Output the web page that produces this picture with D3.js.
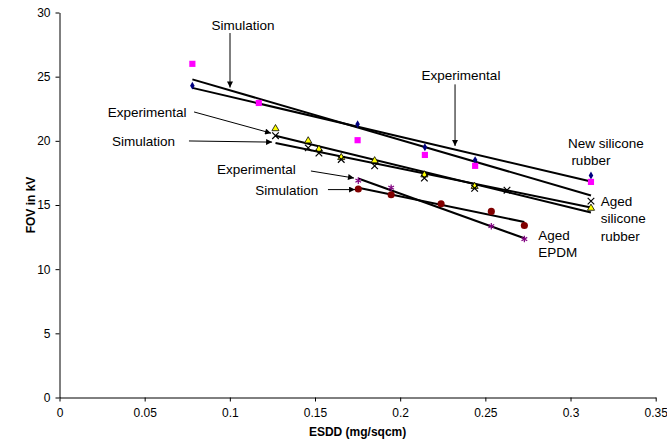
<!DOCTYPE html>
<html>
<head>
<meta charset="utf-8">
<script src="https://cdn.jsdelivr.net/npm/d3@7"></script>
<style>
  body { margin: 0; background: #fff; }
  svg { display: block; font-family: "Liberation Sans", Arial, sans-serif; }
</style>
</head>
<body>
<div id="chart"></div>
<script>
// Axis ticks
var xTicks = [0, 0.05, 0.1, 0.15, 0.2, 0.25, 0.3, 0.35];
var yTicks = [0, 5, 10, 15, 20, 25, 30];

// New silicone rubber
var newExpX = [0.078, 0.175, 0.2145, 0.244, 0.312];
var newExpY = [24.3, 21.3, 19.5, 18.5, 17.3];
var newSimX = [0.078, 0.117, 0.175, 0.2145, 0.244, 0.312];
var newSimY = [26.0, 22.95, 20.05, 18.9, 18.05, 16.8];

// Aged silicone rubber
var agedExpX = [0.1268, 0.146, 0.1523, 0.1654, 0.185, 0.2142, 0.2437, 0.312];
var agedExpY = [20.95, 20.0, 19.35, 18.7, 18.45, 17.35, 16.45, 14.75];
var agedSimX = [0.1268, 0.146, 0.1523, 0.1654, 0.185, 0.2142, 0.2437, 0.2627, 0.312];
var agedSimY = [20.4, 19.45, 19.05, 18.55, 18.05, 17.1, 16.3, 16.15, 15.3];

// Aged EPDM
var epdmExpX = [0.1754, 0.1947, 0.2535, 0.2729];
var epdmExpY = [16.9, 16.35, 13.35, 12.35];
var epdmSimX = [0.1754, 0.1947, 0.224, 0.2535, 0.2729];
var epdmSimY = [16.25, 15.8, 15.1, 14.5, 13.4];

// Set dimensions
var width = 667,
  height = 446,
  plot = { left: 59.5, right: 655.7, top: 12.5, bottom: 397.5 };

var x = d3.scaleLinear().domain([0, 0.35]).range([plot.left, plot.right]);
var y = d3.scaleLinear().domain([0, 30]).range([plot.bottom, plot.top]);

function zip(xs, ys) {
  return xs.map(function (v, i) { return { x: v, y: ys[i] }; });
}

// series styles, drawn in this order
var series = [
  { pts: zip(newExpX, newExpY), shape: 'diamond', color: '#000080' },
  { pts: zip(newSimX, newSimY), shape: 'square', color: '#ff00ff' },
  { pts: zip(agedExpX, agedExpY), shape: 'triangle', color: '#ffff00' },
  { pts: zip(agedSimX, agedSimY), shape: 'times', color: '#000000' },
  { pts: zip(epdmExpX, epdmExpY), shape: 'asterisk', color: '#800080' },
  { pts: zip(epdmSimX, epdmSimY), shape: 'circle', color: '#800000' }
];

// Annotation texts, placed in data units
var labels = [
  { t: 'Simulation', x: 0.1077, y: 29.0, anchor: 'middle' },
  { t: 'Experimental', x: 0.2357, y: 25.1, anchor: 'middle' },
  { t: 'Experimental', x: 0.0515, y: 22.25, anchor: 'middle' },
  { t: 'Simulation', x: 0.0493, y: 19.99, anchor: 'middle' },
  { t: 'Experimental', x: 0.1156, y: 17.8, anchor: 'middle' },
  { t: 'Simulation', x: 0.1334, y: 16.11, anchor: 'middle' },
  { t: 'New silicone', x: 0.2985, y: 19.83, anchor: 'start' },
  { t: 'rubber', x: 0.3005, y: 18.5, anchor: 'start' },
  { t: 'Aged', x: 0.3177, y: 15.26, anchor: 'start' },
  { t: 'silicone', x: 0.3177, y: 13.96, anchor: 'start' },
  { t: 'rubber', x: 0.3177, y: 12.6, anchor: 'start' },
  { t: 'Aged', x: 0.2811, y: 12.66, anchor: 'start' },
  { t: 'EPDM', x: 0.2811, y: 11.34, anchor: 'start' }
];
var arrows = [
  { x1: 0.1001, y1: 28.4, x2: 0.1001, y2: 24.15 },
  { x1: 0.2322, y1: 24.4, x2: 0.2322, y2: 19.6 },
  { x1: 0.079, y1: 22.25, x2: 0.1242, y2: 20.6 },
  { x1: 0.076, y1: 19.99, x2: 0.1248, y2: 19.9 },
  { x1: 0.1476, y1: 17.65, x2: 0.1729, y2: 17.1 },
  { x1: 0.1576, y1: 16.2, x2: 0.1735, y2: 16.2 }
];

var svg = d3
  .select('#chart')
  .append('svg')
  .attr('width', width)
  .attr('height', height);

svg.append('defs')
  .append('marker')
  .attr('id', 'arrow')
  .attr('viewBox', '0 0 10 10')
  .attr('refX', 10)
  .attr('refY', 5)
  .attr('markerWidth', 7)
  .attr('markerHeight', 6)
  .attr('markerUnits', 'userSpaceOnUse')
  .attr('orient', 'auto')
  .append('path')
  .attr('d', 'M0,0L10,5L0,10z')
  .attr('fill', '#000');

// Axes
var xAxis = svg.append('g')
  .attr('transform', 'translate(0,' + plot.bottom + ')')
  .call(d3.axisBottom(x).tickValues(xTicks).tickFormat(function (d) { return String(d); })
    .tickSize(4).tickSizeOuter(0).tickPadding(7));
var yAxis = svg.append('g')
  .attr('transform', 'translate(' + plot.left + ',0)')
  .call(d3.axisLeft(y).tickValues(yTicks).tickSize(4).tickSizeOuter(0).tickPadding(5));

[xAxis, yAxis].forEach(function (a) {
  a.selectAll('path, line').attr('stroke', '#000').attr('stroke-width', 1);
  a.selectAll('text').attr('fill', '#000').style('font-size', '12px')
    .style('font-family', '"Liberation Sans", Arial, sans-serif');
});

svg.append('text')
  .attr('x', (plot.left + plot.right) / 2)
  .attr('y', 436)
  .attr('text-anchor', 'middle')
  .style('font-size', '12px')
  .style('font-weight', 'bold')
  .text('ESDD (mg/sqcm)');

svg.append('text')
  .attr('transform', 'translate(35,205) rotate(-90)')
  .attr('text-anchor', 'middle')
  .style('font-size', '12px')
  .style('font-weight', 'bold')
  .text('FOV in kV');

// Linear trendline, least squares, over the data range
function trend(pts) {
  var mx = d3.mean(pts, function (d) { return d.x; });
  var my = d3.mean(pts, function (d) { return d.y; });
  var sxy = d3.sum(pts, function (d) { return (d.x - mx) * (d.y - my); });
  var sxx = d3.sum(pts, function (d) { return (d.x - mx) * (d.x - mx); });
  var b = sxy / sxx;
  var ext = d3.extent(pts, function (d) { return d.x; });
  return ext.map(function (v) { return { x: v, y: my + b * (v - mx) }; });
}

var line = d3.line()
  .x(function (d) { return x(d.x); })
  .y(function (d) { return y(d.y); });

svg.append('g')
  .selectAll('path')
  .data(series)
  .enter()
  .append('path')
  .attr('d', function (s) { return line(trend(s.pts)); })
  .attr('fill', 'none')
  .attr('stroke', '#000')
  .attr('stroke-width', 2);

// Markers
var shapes = {
  diamond: { type: d3.symbolDiamond, size: 18, filled: true },
  square: { type: d3.symbolSquare, size: 38, filled: true },
  triangle: { type: d3.symbolTriangle, size: 22, filled: true },
  times: { type: d3.symbolTimes, size: 30, filled: false },
  asterisk: { type: d3.symbolAsterisk, size: 30, filled: false },
  circle: { type: d3.symbolCircle, size: 40, filled: true }
};

series.forEach(function (s) {
  var sh = shapes[s.shape];
  svg.append('g')
    .selectAll('path')
    .data(s.pts)
    .enter()
    .append('path')
    .attr('transform', function (d) { return 'translate(' + x(d.x) + ',' + y(d.y) + ')'; })
    .attr('d', d3.symbol().type(sh.type).size(sh.size))
    .attr('fill', sh.filled ? s.color : 'none')
    .attr('stroke', s.shape === 'triangle' ? '#000' : (sh.filled ? 'none' : s.color))
    .attr('stroke-width', sh.filled ? 0.8 : 1.2);
});

// Annotations
svg.append('g')
  .selectAll('line')
  .data(arrows)
  .enter()
  .append('line')
  .attr('x1', function (d) { return x(d.x1); })
  .attr('y1', function (d) { return y(d.y1); })
  .attr('x2', function (d) { return x(d.x2); })
  .attr('y2', function (d) { return y(d.y2); })
  .attr('stroke', '#000')
  .attr('stroke-width', 1)
  .attr('marker-end', 'url(#arrow)');

svg.append('g')
  .selectAll('text')
  .data(labels)
  .enter()
  .append('text')
  .attr('x', function (d) { return x(d.x); })
  .attr('y', function (d) { return y(d.y); })
  .attr('dy', '0.35em')
  .attr('text-anchor', function (d) { return d.anchor; })
  .style('font-size', '13.5px')
  .text(function (d) { return d.t; });
</script>
</body>
</html>
